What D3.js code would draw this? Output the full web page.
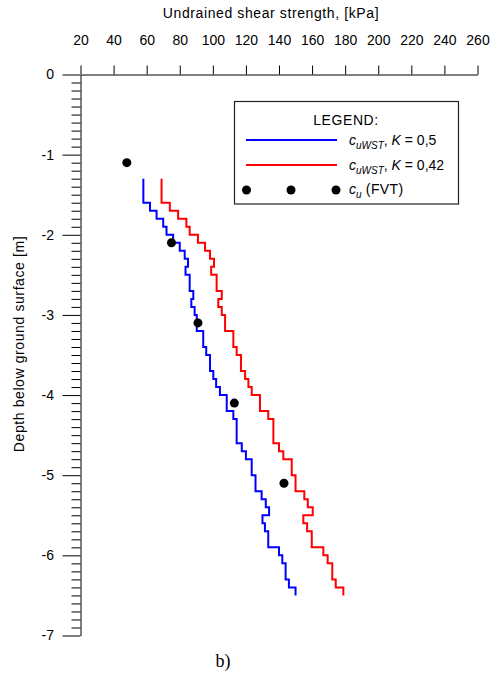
<!DOCTYPE html>
<html>
<head>
<meta charset="utf-8">
<script src="https://cdn.jsdelivr.net/npm/d3@7.9.0/dist/d3.min.js"></script>
<style>
  body { margin: 0; background: #fff; }
  svg { display: block; font-family: Arial, "Liberation Sans", sans-serif; }
</style>
</head>
<body>
<svg id="chart" width="497" height="677"></svg>
<script>
// layer tops (m), 0.1 m layers, last entry is the bottom of the profile
const depths = [
  -1.3, -1.4, -1.5, -1.6, -1.7, -1.8, -1.9,
  -2.0, -2.1, -2.2, -2.3, -2.4, -2.5, -2.6, -2.7, -2.8, -2.9,
  -3.0, -3.1, -3.2, -3.3, -3.4, -3.5, -3.6, -3.7, -3.8, -3.9,
  -4.0, -4.1, -4.2, -4.3, -4.4, -4.5, -4.6, -4.7, -4.8, -4.9,
  -5.0, -5.1, -5.2, -5.3, -5.4, -5.5, -5.6, -5.7, -5.8, -5.9,
  -6.0, -6.1, -6.2, -6.3, -6.4, -6.5
];

// c_uWST, K = 0,5
const cuK05 = [
  58, 58, 58, 62, 66, 70, 72,
  76, 80, 83, 85, 83.5, 86, 86, 88.2, 87, 89,
  90.3, 90.3, 94.2, 94.2, 96, 98.3, 98.3, 100.3, 102, 104.3,
  108.4, 108.4, 112.4, 114.4, 114.4, 114.4, 117.5, 120, 123.5, 123.5,
  125.8, 125.8, 129.5, 132, 134, 130, 131.5, 133.5, 133.5, 140,
  142, 144, 144, 146, 150
];

// c_uWST, K = 0,42
const cuK042 = [
  69, 69, 69, 74, 79, 84, 86,
  91, 95.3, 98.3, 100.7, 99, 102.3, 102.3, 105.4, 103.3, 105.4,
  107.4, 107.4, 112.4, 112.4, 114.4, 117, 117, 119.5, 121.5, 123.5,
  128.5, 128.5, 133.5, 136.6, 136.6, 136.6, 140, 142.6, 147.7, 147.7,
  150, 150, 155.3, 157.4, 160.4, 154.7, 157, 159.8, 159.8, 166.8,
  169.4, 172.2, 172.2, 174.3, 178.9
];

// field vane tests
const fvtDepth = [-1.1, -2.1, -3.1, -4.1, -5.1];
const fvtCu = [48, 75, 91, 113, 143];

const xTicks = [20, 40, 60, 80, 100, 120, 140, 160, 180, 200, 220, 240, 260];
const yTicks = [0, -1, -2, -3, -4, -5, -6, -7];

const svg = d3.select('#chart');

const x = d3.scaleLinear().domain([20, 260]).range([80.5, 477.5]);
const y = d3.scaleLinear().domain([0, -7]).range([74.5, 635.5]);

// top axis
const topAxis = svg.append('g')
  .attr('transform', `translate(0,${y(0)})`)
  .call(d3.axisTop(x).tickValues(xTicks).tickSize(9).tickSizeOuter(0).tickPadding(21));
topAxis.selectAll('text').attr('font-size', 14).attr('fill', '#000')
  .attr('font-family', 'Arial, "Liberation Sans", sans-serif');

// left axis, minor ticks every 0.1 m
const minor = d3.range(0, 71).filter((i) => i % 10 !== 0).map((i) => -i / 10);
svg.append('g')
  .attr('transform', `translate(${x(20)},0)`)
  .call(d3.axisLeft(y).tickValues(minor).tickSize(9).tickSizeOuter(0).tickFormat(''))
  .select('.domain').remove();

const leftAxis = svg.append('g')
  .attr('transform', `translate(${x(20)},0)`)
  .call(d3.axisLeft(y).tickValues(yTicks).tickSize(18).tickSizeOuter(0).tickPadding(8.5)
    .tickFormat((d) => String(d)));
leftAxis.selectAll('text').attr('font-size', 14).attr('fill', '#000')
  .attr('font-family', 'Arial, "Liberation Sans", sans-serif');

svg.selectAll('.tick line, .domain').attr('stroke', '#000').attr('stroke-width', 1);

// axis titles
svg.append('text')
  .attr('x', 271).attr('y', 17.5)
  .attr('text-anchor', 'middle')
  .attr('font-size', 14).attr('letter-spacing', 0.6)
  .text('Undrained shear strength, [kPa]');

svg.append('text')
  .attr('transform', 'translate(24,344) rotate(-90)')
  .attr('text-anchor', 'middle')
  .attr('font-size', 14).attr('letter-spacing', 0.6)
  .text('Depth below ground surface [m]');

// step profiles
const line = d3.line()
  .x((d) => x(d[0]))
  .y((d) => y(d[1]))
  .curve(d3.curveStepBefore);

function profile(values) {
  const pts = values.map((v, i) => [v, depths[i]]);
  pts.push([values[values.length - 1], depths[depths.length - 1]]);
  return pts;
}

svg.append('path')
  .attr('d', line(profile(cuK05)))
  .attr('fill', 'none').attr('stroke', '#0000ff').attr('stroke-width', 2);

svg.append('path')
  .attr('d', line(profile(cuK042)))
  .attr('fill', 'none').attr('stroke', '#ff0000').attr('stroke-width', 2);

svg.selectAll('circle.fvt')
  .data(fvtCu)
  .enter()
  .append('circle')
  .attr('class', 'fvt')
  .attr('cx', (d) => x(d))
  .attr('cy', (d, i) => y(fvtDepth[i]))
  .attr('r', 4.5)
  .attr('fill', '#000');

// legend
const lg = svg.append('g');
lg.append('rect')
  .attr('x', 234.5).attr('y', 101.5).attr('width', 224).attr('height', 102.5)
  .attr('fill', '#fff').attr('stroke', '#222').attr('stroke-width', 1.2);

lg.append('text')
  .attr('x', 346).attr('y', 125)
  .attr('text-anchor', 'middle')
  .attr('font-size', 14).attr('letter-spacing', 0.6)
  .text('LEGEND:');

const legendRows = [
  { color: '#0000ff', y: 140, k: '0,5' },
  { color: '#ff0000', y: 165, k: '0,42' }
];

legendRows.forEach((r) => {
  lg.append('line')
    .attr('x1', 246).attr('x2', 337).attr('y1', r.y).attr('y2', r.y)
    .attr('stroke', r.color).attr('stroke-width', 2);
  const t = lg.append('text')
    .attr('x', 349).attr('y', r.y + 4.5)
    .attr('font-size', 14);
  t.append('tspan').attr('font-style', 'italic').text('c');
  t.append('tspan').attr('font-style', 'italic').attr('font-size', 10).attr('dy', 4).text('uWST');
  t.append('tspan').attr('dy', -4).text(', ');
  t.append('tspan').attr('font-style', 'italic').text('K');
  t.append('tspan').text(' = ' + r.k);
});

lg.selectAll('circle')
  .data([246.5, 291, 336])
  .enter()
  .append('circle')
  .attr('cx', (d) => d).attr('cy', 190).attr('r', 4.5).attr('fill', '#000');

const t3 = lg.append('text').attr('x', 349).attr('y', 194).attr('font-size', 14);
t3.append('tspan').attr('font-style', 'italic').text('c');
t3.append('tspan').attr('font-style', 'italic').attr('font-size', 10).attr('dy', 4).text('u');
t3.append('tspan').attr('dy', -4).attr('letter-spacing', 0.4).text(' (FVT)');

// panel label
svg.append('text')
  .attr('x', 223).attr('y', 667)
  .attr('text-anchor', 'middle')
  .attr('font-family', '"Liberation Serif", "Times New Roman", serif')
  .attr('font-size', 18)
  .text('b)');
</script>
</body>
</html>
